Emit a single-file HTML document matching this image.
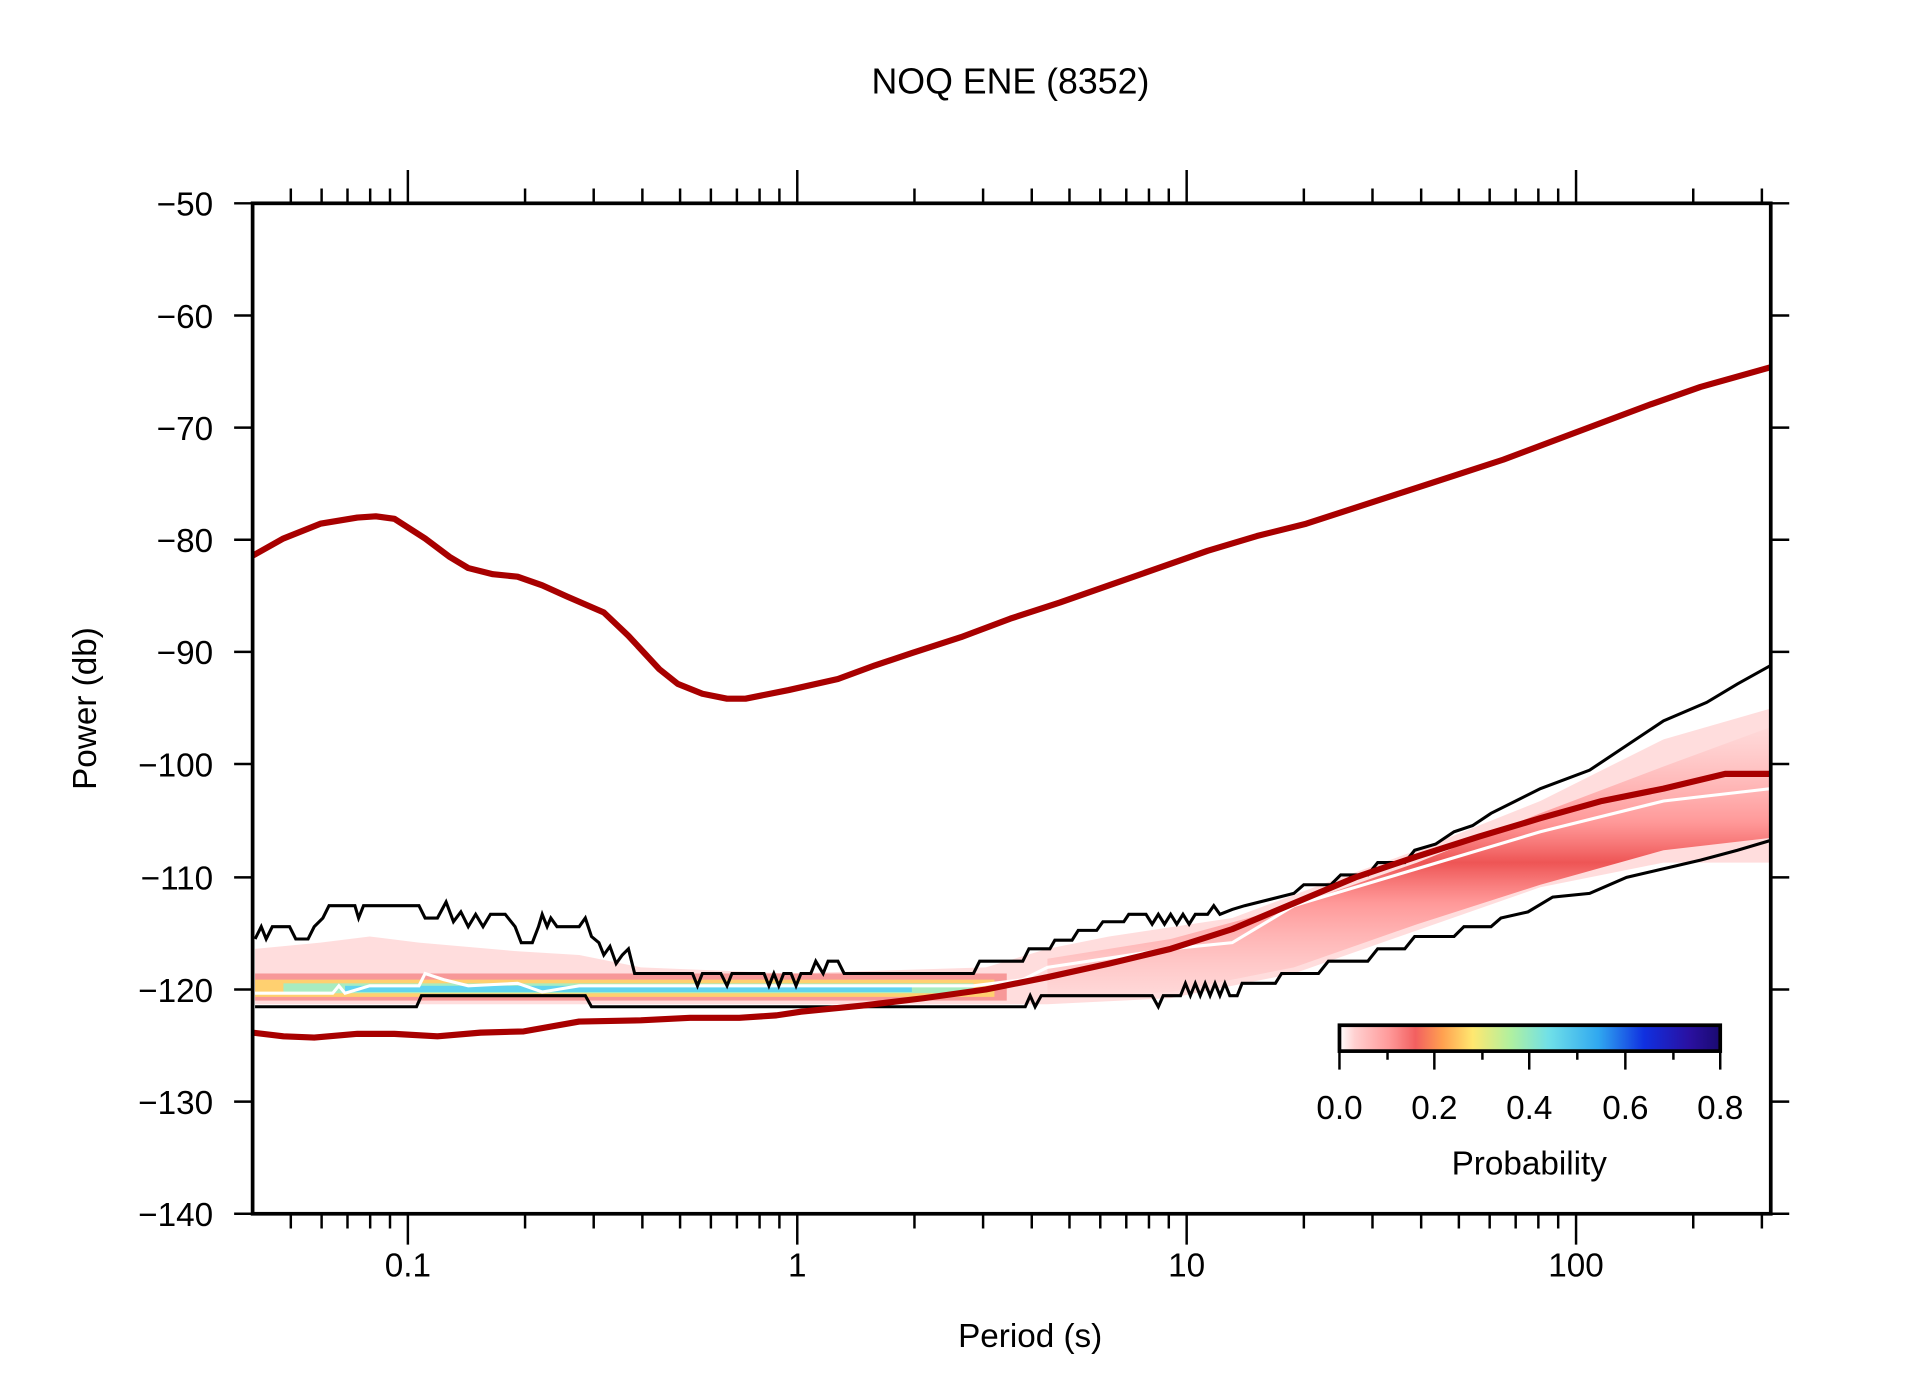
<!DOCTYPE html>
<html><head><meta charset="utf-8"><style>html,body{margin:0;padding:0;background:#fff}svg{display:block}</style></head>
<body>
<svg width="1910" height="1389" viewBox="0 0 1550 1127.2" xmlns="http://www.w3.org/2000/svg" font-family="Liberation Sans, sans-serif">
<defs>
<linearGradient id="cb" x1="0" x2="1" y1="0" y2="0">
<stop offset="0" stop-color="#ffffff"/><stop offset="0.04" stop-color="#ffd0d0"/><stop offset="0.13" stop-color="#ff9a9a"/>
<stop offset="0.2" stop-color="#f26060"/><stop offset="0.27" stop-color="#ffa050"/><stop offset="0.35" stop-color="#ffe870"/>
<stop offset="0.45" stop-color="#b0f0a0"/><stop offset="0.55" stop-color="#70e0e8"/><stop offset="0.68" stop-color="#30a8f0"/>
<stop offset="0.8" stop-color="#1030e0"/><stop offset="0.92" stop-color="#2a10a0"/><stop offset="1" stop-color="#1a0a70"/>
</linearGradient>
<linearGradient id="band" x1="0" x2="0" y1="0" y2="1">
<stop offset="0" stop-color="#ffd6d6" stop-opacity="0.5"/><stop offset="0.35" stop-color="#f88" stop-opacity="0.8"/>
<stop offset="0.5" stop-color="#ee5555"/><stop offset="0.65" stop-color="#f88" stop-opacity="0.8"/><stop offset="1" stop-color="#ffd6d6" stop-opacity="0.5"/>
</linearGradient>
</defs>
<text x="820" y="76" font-size="29" text-anchor="middle">NOQ ENE (8352)</text>

<!-- PDF density -->
<polygon fill="#ffd4d4" opacity="0.8" points="207,770 260,765 300,760 340,765 420,772 470,775 520,785 640,790 800,785 850,770 900,760 1000,745 1080,715 1150,690 1250,650 1350,600 1437,575 1437,700 1350,700 1250,720 1150,755 1050,790 950,810 850,815 700,815 480,815 340,815 207,815"/>
<polygon fill="url(#band)" points="850,778 950,762 1050,735 1150,700 1250,660 1350,622 1437,590 1437,680 1350,690 1250,718 1150,750 1050,785 950,805 850,810"/>
<rect x="207" y="790" width="610" height="22" fill="#f47a7a" opacity="0.7"/>
<rect x="207" y="795" width="600" height="14" fill="#ffd070"/>
<rect x="230" y="798" width="560" height="8" fill="#a8ecc0"/>
<rect x="280" y="800" width="460" height="5" fill="#60d4f0"/>
<polyline fill="none" stroke="#fff" stroke-width="2.5" points="205,806 270,806 275,800 280,806 300,800 340,800 345,790 360,795 380,800 420,798 440,805 470,800 560,800 700,800 790,800 830,795 850,785 950,770 1000,765 1050,735 1150,705 1250,675 1350,650 1437,640"/>

<!-- black percentile lines -->
<polyline fill="none" stroke="#000" stroke-width="2.5" points="207,762 212,752 216,762 221,752 235,752 240,762 250,762 255,752 262,745 267,735 288,735 291,745 295,735 340,735 345,745 355,745 362,732 368,748 374,740 380,752 386,742 392,752 398,742 410,742 418,752 423,765 432,765 437,752 440,742 444,752 447,745 452,752 462,752 470,752 475,745 480,760 486,765 490,775 495,768 500,782 505,775 510,770 515,790 562,790 566,800 570,790 585,790 590,800 594,790 620,790 624,800 628,790 632,800 636,790 642,790 646,800 650,790 658,790 662,780 668,790 672,780 680,780 685,790 790,790 795,780 830,780 835,770 852,770 856,763 870,763 875,755 890,755 895,748 912,748 916,742 930,742 935,750 940,742 945,750 950,742 955,750 960,742 965,750 970,742 980,742 985,735 990,742 1000,738 1010,735 1050,725 1058,718 1080,718 1088,710 1110,710 1118,700 1140,700 1148,690 1165,685 1180,675 1195,670 1210,660 1230,650 1250,640 1290,625 1320,605 1350,585 1385,570 1410,555 1437,540"/>
<polyline fill="none" stroke="#000" stroke-width="2.5" points="207,817 338,817 342,808 475,808 480,817 832,817 836,808 840,817 845,808 935,808 940,817 944,808 958,808 962,798 966,808 970,798 974,808 978,798 982,808 986,798 990,808 994,798 998,808 1004,808 1008,798 1035,798 1040,790 1070,790 1078,780 1110,780 1118,770 1140,770 1148,760 1180,760 1188,752 1210,752 1218,745 1240,740 1260,728 1290,725 1320,712 1350,705 1380,698 1410,690 1437,682"/>

<!-- red noise models -->
<polyline fill="none" stroke="#a80000" stroke-width="5" stroke-linejoin="round" points="205,451 230,437 260,425 290,420 305,419 320,421 345,437 365,452 380,461 400,466 420,468 440,475 460,484 490,497 510,516 535,543 550,555 570,563 590,567 605,567 640,560 680,551 710,540 740,530 780,517 820,502 860,489 900,475 940,461 980,447 1020,435 1060,425 1100,412 1140,399 1180,386 1220,373 1260,358 1300,343 1340,328 1380,314 1437,298"/>
<polyline fill="none" stroke="#a80000" stroke-width="5" stroke-linejoin="round" points="205,838 230,841 255,842 290,839 320,839 355,841 390,838 425,837 470,829 520,828 560,826 600,826 630,824 650,821 700,816 750,810 800,803 850,793 900,782 950,770 1000,754 1050,733 1100,712 1150,695 1200,679 1250,664 1300,650 1350,640 1400,628 1437,628"/>

<!-- colorbar -->
<rect x="1087" y="832" width="309" height="21" fill="url(#cb)" stroke="#000" stroke-width="3"/>
<g stroke="#000" stroke-width="2">
<line x1="1087" y1="853" x2="1087" y2="868"/><line x1="1164" y1="853" x2="1164" y2="868"/><line x1="1241" y1="853" x2="1241" y2="868"/><line x1="1319" y1="853" x2="1319" y2="868"/><line x1="1396" y1="853" x2="1396" y2="868"/>
<line x1="1126" y1="853" x2="1126" y2="860"/><line x1="1203" y1="853" x2="1203" y2="860"/><line x1="1280" y1="853" x2="1280" y2="860"/><line x1="1358" y1="853" x2="1358" y2="860"/>
</g>
<g font-size="27" text-anchor="middle">
<text x="1087" y="908">0.0</text><text x="1164" y="908">0.2</text><text x="1241" y="908">0.4</text><text x="1319" y="908">0.6</text><text x="1396" y="908">0.8</text>
<text x="1241" y="953">Probability</text>
</g>

<!-- axes -->
<rect x="205" y="165" width="1232" height="820" fill="none" stroke="#000" stroke-width="3"/>
<g stroke="#000" stroke-width="2">
<line x1="190" y1="165" x2="205" y2="165"/><line x1="190" y1="256" x2="205" y2="256"/><line x1="190" y1="347" x2="205" y2="347"/><line x1="190" y1="438" x2="205" y2="438"/><line x1="190" y1="529" x2="205" y2="529"/><line x1="190" y1="620" x2="205" y2="620"/><line x1="190" y1="712" x2="205" y2="712"/><line x1="190" y1="803" x2="205" y2="803"/><line x1="190" y1="894" x2="205" y2="894"/><line x1="190" y1="985" x2="205" y2="985"/>
<line x1="1437" y1="165" x2="1452" y2="165"/><line x1="1437" y1="256" x2="1452" y2="256"/><line x1="1437" y1="347" x2="1452" y2="347"/><line x1="1437" y1="438" x2="1452" y2="438"/><line x1="1437" y1="529" x2="1452" y2="529"/><line x1="1437" y1="620" x2="1452" y2="620"/><line x1="1437" y1="712" x2="1452" y2="712"/><line x1="1437" y1="803" x2="1452" y2="803"/><line x1="1437" y1="894" x2="1452" y2="894"/><line x1="1437" y1="985" x2="1452" y2="985"/>
</g>
<g font-size="27" text-anchor="end">
<text x="173" y="175">−50</text><text x="173" y="266">−60</text><text x="173" y="357">−70</text><text x="173" y="448">−80</text><text x="173" y="539">−90</text><text x="173" y="630">−100</text><text x="173" y="722">−110</text><text x="173" y="813">−120</text><text x="173" y="904">−130</text><text x="173" y="995">−140</text>
</g>
<!-- x minor ticks bottom -->
<path stroke="#000" stroke-width="2" fill="none" d="
M236,985v12 M261,985v12 M282,985v12 M300.4,985v12 M316.5,985v12
M426.1,985v12 M481.8,985v12 M521.3,985v12 M551.9,985v12 M576.9,985v12 M598,985v12 M616.4,985v12 M632.5,985v12
M742.1,985v12 M797.8,985v12 M837.3,985v12 M867.9,985v12 M892.9,985v12 M914,985v12 M932.4,985v12 M948.5,985v12
M1058.1,985v12 M1113.8,985v12 M1153.3,985v12 M1183.9,985v12 M1208.9,985v12 M1230,985v12 M1248.4,985v12 M1264.5,985v12
M1374.1,985v12 M1429.8,985v12
M331,985v25 M647,985v25 M963,985v25 M1279,985v25
M236,165v-12 M261,165v-12 M282,165v-12 M300.4,165v-12 M316.5,165v-12
M426.1,165v-12 M481.8,165v-12 M521.3,165v-12 M551.9,165v-12 M576.9,165v-12 M598,165v-12 M616.4,165v-12 M632.5,165v-12
M742.1,165v-12 M797.8,165v-12 M837.3,165v-12 M867.9,165v-12 M892.9,165v-12 M914,165v-12 M932.4,165v-12 M948.5,165v-12
M1058.1,165v-12 M1113.8,165v-12 M1153.3,165v-12 M1183.9,165v-12 M1208.9,165v-12 M1230,165v-12 M1248.4,165v-12 M1264.5,165v-12
M1374.1,165v-12 M1429.8,165v-12
M331,165v-27 M647,165v-27 M963,165v-27 M1279,165v-27"/>
<g font-size="27" text-anchor="middle">
<text x="331" y="1036">0.1</text><text x="647" y="1036">1</text><text x="963" y="1036">10</text><text x="1279" y="1036">100</text>
<text x="836" y="1093">Period (s)</text>
</g>
<text transform="translate(78,575) rotate(-90)" font-size="27" text-anchor="middle">Power (db)</text>
</svg>
</body></html>
